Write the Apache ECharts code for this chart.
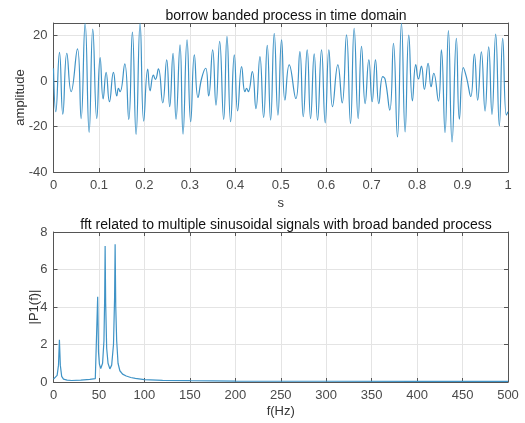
<!DOCTYPE html>
<html>
<head>
<meta charset="utf-8">
<script src="https://cdn.jsdelivr.net/npm/echarts@6/dist/echarts.min.js"></script>
<style>
  html, body { margin: 0; padding: 0; background: #fff; }
  #chart { width: 525px; height: 423px; }
</style>
</head>
<body>
<div id="chart"></div>
<script>
// time-domain signal at its peaks and troughs
const sigT = [0, 0.0051, 0.0132, 0.0205, 0.0293, 0.0388, 0.0527, 0.0608, 0.0696, 0.0784,
  0.0864, 0.0952, 0.1026, 0.1092, 0.1158, 0.1231, 0.1319, 0.1392, 0.1429, 0.1465,
  0.1568, 0.1656, 0.1736, 0.1817, 0.1905, 0.1985, 0.2073, 0.2125, 0.2198, 0.2242,
  0.2308, 0.2403, 0.2491, 0.2557, 0.2630, 0.2696, 0.2784, 0.2850, 0.2938, 0.3018,
  0.3099, 0.3179, 0.3260, 0.3348, 0.3414, 0.3502, 0.3575, 0.3656, 0.3744, 0.3817,
  0.3897, 0.3978, 0.4051, 0.4139, 0.4212, 0.4249, 0.4286, 0.4374, 0.4454, 0.4542,
  0.4623, 0.4703, 0.4777, 0.4857, 0.4938, 0.5018, 0.5092, 0.5187, 0.5333, 0.5421,
  0.5495, 0.5582, 0.5656, 0.5736, 0.5810, 0.5897, 0.5978, 0.6059, 0.6139, 0.6256,
  0.6352, 0.6447, 0.6535, 0.6615, 0.6703, 0.6777, 0.6857, 0.6938, 0.7011, 0.7084,
  0.7158, 0.7245, 0.7297, 0.7399, 0.7480, 0.7568, 0.7656, 0.7736, 0.7817, 0.7897,
  0.7971, 0.8029, 0.8095, 0.8161, 0.8242, 0.8308, 0.8366, 0.8469, 0.8535, 0.8615,
  0.8689, 0.8769, 0.8864, 0.8930, 0.9018, 0.9092, 0.9180, 0.9260, 0.9333, 0.9414,
  0.9495, 0.9575, 0.9648, 0.9729, 0.9810, 0.9883, 0.9963, 1.0];
const sigV = [5.6, -13.5, 12.6, -14.6, 12.2, -4.7, 14.1, -16.5, 25.4, -22.6,
  22.8, -16.5, 10.3, -7.9, 3.8, -9.1, 3.8, -6.6, -3.2, -4.7,
  7.5, -16.9, 21.5, -23.5, 25.4, -17.6, 5.2, -4.3, 2.6, 0.7,
  5.3, -9.6, 9.3, -11.3, 12.2, -16.8, 15.9, -23.4, 18.1, -17.9,
  11.5, -7.2, 1.2, 5.6, -6.6, 13.7, -10.6, 17.4, -16.9, 19.6,
  -17.9, 11.5, -13.1, 6.3, -4.7, -3.2, -4.7, 4.1, -12.1, 10.7,
  -16.0, 15.7, -17.2, 20.9, -15.0, 18.1, -8.4, 7.1, -7.7, 12.9,
  -15.7, 13.7, -16.5, 11.9, -17.2, 13.7, -18.4, 13.7, -11.3, 7.1,
  -9.6, 20.3, -18.7, 23.2, -16.5, 15.2, -9.9, 9.3, -9.1, 9.3,
  -9.9, 1.9, 0.7, -12.8, 16.6, -24.6, 25.4, -22.4, 20.2, -8.7,
  7.2, 0.9, 6.5, -3.7, 7.8, -2.5, 3.4, -8.8, 13.7, -22.7,
  22.2, -26.8, 18.8, -16.8, 5.9, 1.2, -6.8, 11.8, -8.4, 12.8,
  -13.2, 15.0, -14.7, 20.6, -19.7, 18.8, -15.0, -13.5];

// single-sided spectrum
const freqHz = [0, 2, 4, 5.5, 6.5, 7.5, 9, 11, 15, 20,
  30, 40, 46, 48, 48.6, 49.5, 50.5, 52, 54, 55.5,
  56.3, 56.8, 57.4, 58.5, 60, 62, 64, 66, 67.2, 67.8,
  68.5, 69.5, 71, 73, 76, 80, 85, 90, 100, 120,
  150, 200, 300, 400, 500];
const magP1 = [0.15, 0.2, 0.35, 0.9, 2.25, 0.9, 0.3, 0.15, 0.1, 0.08,
  0.1, 0.14, 0.18, 0.22, 4.55, 1.6, 0.95, 0.72, 1.0, 2.2,
  4.5, 7.25, 4.2, 1.8, 1.0, 0.7, 0.9, 2.0, 4.5, 7.35,
  4.0, 2.2, 1.0, 0.6, 0.42, 0.32, 0.24, 0.19, 0.13, 0.09,
  0.07, 0.05, 0.04, 0.03, 0.03];

const topYTicks = [-40, -20, 0, 20];

const FONT = '"Liberation Sans", Arial, sans-serif';
const AXIS_COLOR = '#555';
const LABEL_COLOR = '#4a4a4a';
const GRID_COLOR = '#e4e4e4';
const LINE_COLOR = '#3f93c6';

const chart = echarts.init(document.getElementById('chart'), null, { renderer: 'canvas' });

// a helper for the axes, MATLAB style: box on, ticks pointing in
const mkAxis = (extra) => Object.assign({
  type: 'value',
  axisLine: { show: true, onZero: false, lineStyle: { color: AXIS_COLOR, width: 1 } },
  axisTick: { show: true, inside: true, length: 4, lineStyle: { color: AXIS_COLOR } },
  axisLabel: { color: LABEL_COLOR, fontFamily: FONT, fontSize: 13, margin: 7 },
  splitLine: { show: false },
  nameMoveOverlap: false,
  nameTextStyle: { color: '#333', fontFamily: FONT, fontSize: 13 },
}, extra);

chart.setOption({
  backgroundColor: '#fff',
  animation: false,
  title: [
    {
      text: 'borrow banded process in time domain',
      left: 281, top: 4, textAlign: 'center',
      textStyle: { fontFamily: FONT, fontSize: 14, fontWeight: 'normal', color: '#111' },
    },
    {
      text: 'fft related to multiple sinusoidal signals with broad banded process',
      left: 281, top: 213, textAlign: 'center',
      textStyle: { fontFamily: FONT, fontSize: 14, fontWeight: 'normal', color: '#111' },
    },
  ],
  grid: [
    { left: 53.5, top: 23, width: 454.5, height: 149 },
    { left: 53.5, top: 232, width: 454.5, height: 150 },
  ],
  xAxis: [
    mkAxis({
      gridIndex: 0, min: 0, max: 1, interval: 0.1,
      name: 's', nameLocation: 'middle', nameGap: 25,
      splitLine: { show: true, lineStyle: { color: GRID_COLOR } },
    }),
    mkAxis({
      gridIndex: 0, position: 'top', min: 0, max: 1, interval: 0.1,
      axisLabel: { show: false },
    }),
    mkAxis({
      gridIndex: 1, min: 0, max: 500, interval: 50,
      name: 'f(Hz)', nameLocation: 'middle', nameGap: 23,
      splitLine: { show: true, lineStyle: { color: GRID_COLOR } },
    }),
    mkAxis({
      gridIndex: 1, position: 'top', min: 0, max: 500, interval: 50,
      axisLabel: { show: false },
    }),
  ],
  yAxis: [
    mkAxis({
      gridIndex: 0, min: -40, max: 25.5, interval: 20,
      name: 'amplitude', nameLocation: 'middle', nameGap: 27,
      axisLabel: {
        color: LABEL_COLOR, fontFamily: FONT, fontSize: 13, margin: 6,
        formatter: (v) => (topYTicks.includes(v) ? String(v) : ''),
      },
      splitLine: { show: true, lineStyle: { color: GRID_COLOR } },
    }),
    mkAxis({
      gridIndex: 0, position: 'right', min: -40, max: 25.5, interval: 20,
      axisLabel: { show: false },
    }),
    mkAxis({
      gridIndex: 1, min: 0, max: 8, interval: 2,
      name: '|P1(f)|', nameLocation: 'middle', nameGap: 13,
      axisLabel: { color: LABEL_COLOR, fontFamily: FONT, fontSize: 13, margin: 6 },
      splitLine: { show: true, lineStyle: { color: GRID_COLOR } },
    }),
    mkAxis({
      gridIndex: 1, position: 'right', min: 0, max: 8, interval: 2,
      axisLabel: { show: false },
    }),
  ],
  series: [
    {
      type: 'line',
      xAxisIndex: 0, yAxisIndex: 0,
      data: sigT.map((t, i) => [t, sigV[i]]),
      smooth: 0.5,
      showSymbol: false,
      clip: true,
      lineStyle: { color: LINE_COLOR, width: 1.2 },
    },
    {
      type: 'line',
      xAxisIndex: 2, yAxisIndex: 2,
      data: freqHz.map((f, i) => [f, magP1[i]]),
      showSymbol: false,
      clip: true,
      lineStyle: { color: LINE_COLOR, width: 1.2 },
    },
  ],
});
</script>
</body>
</html>
